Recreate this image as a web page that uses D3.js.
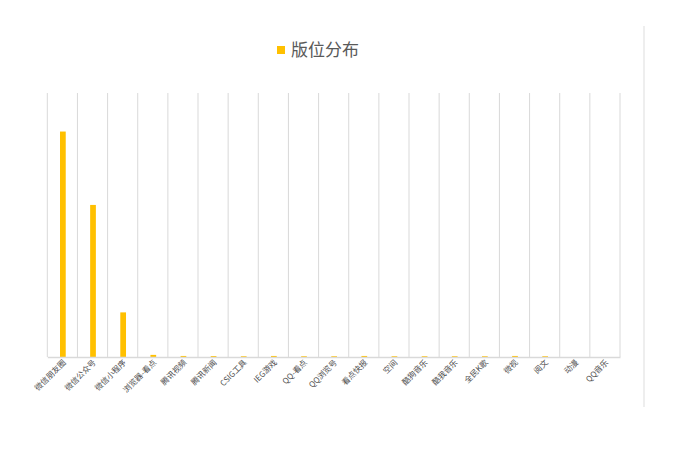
<!DOCTYPE html>
<html>
<head>
<meta charset="utf-8">
<script src="https://cdn.jsdelivr.net/npm/d3@7/dist/d3.min.js"></script>
<style>
  body { margin: 0; background: #fff; }
  text { font-family: "Noto Sans CJK SC", "Noto Sans", sans-serif; }
</style>
</head>
<body>
<svg id="mainsvg" width="689" height="471"></svg>
<script>
    // 数据
    const categories = ['微信朋友圈', '微信公众号', '微信小程序', '浏览器-看点', '腾讯视频', '腾讯新闻', 'CSIG工具', 'IEG游戏', 'QQ-看点', 'QQ浏览号', '看点快报', '空间', '酷狗音乐', '酷我音乐', '全民K歌', '微视', '阅文', '动漫', 'QQ音乐'];
    const values = [42.7, 28.8, 8.45, 0.4, 0.2, 0.18, 0.15, 0.2, 0.15, 0.15, 0.2, 0.15, 0.15, 0.15, 0.15, 0.2, 0.15, 0, 0];
    const seriesName = '版位分布';

    const svg = d3.select('#mainsvg');
    const margin = {top: 93, left: 47.3, right: 69, bottom: 114};
    const width = +svg.attr('width'), height = +svg.attr('height');
    const barColor = '#FFC000';
    const gridColor = '#d9d9d9';

    const x = d3.scaleBand().domain(categories).range([margin.left, width - margin.right]).padding(0);
    const y = d3.scaleLinear().domain([0, 50]).range([height - margin.bottom, margin.top]);

    // 外框右边线
    svg.append('line')
        .attr('x1', 644).attr('x2', 644).attr('y1', 26).attr('y2', 407)
        .attr('stroke', '#e3e3e3').attr('stroke-width', 1.2);

    // 竖向网格线
    const gridX = categories.map(c => x(c)).concat([x.range()[1]]);
    svg.append('g').selectAll('line').data(gridX).join('line')
        .attr('x1', d => d).attr('x2', d => d)
        .attr('y1', y(50)).attr('y2', y(0))
        .attr('stroke', gridColor).attr('stroke-width', 1);

    // 柱子
    const bw = x.bandwidth() * 0.19;
    svg.append('g').selectAll('rect').data(values).join('rect')
        .attr('x', (d, i) => x(categories[i]) + x.bandwidth() / 2 - bw / 2 + 0.5)
        .attr('width', bw)
        .attr('y', d => y(d))
        .attr('height', d => y(0) - y(d))
        .attr('fill', barColor);

    // x轴
    const xAxis = d3.axisBottom(x).tickSize(0).tickPadding(0);
    const xg = svg.append('g')
        .attr('transform', `translate(0,${y(0)})`)
        .call(xAxis);
    xg.select('.domain').attr('stroke', gridColor).attr('stroke-width', 1.3);
    xg.selectAll('.tick text')
        .attr('fill', '#4d4d4d')
        .attr('font-size', '8px')
        .attr('text-anchor', 'end')
        .attr('dy', 0)
        .attr('transform', 'translate(4,6) rotate(-45)');

    // 图例
    const legend = svg.append('g').attr('transform', 'translate(277,46)');
    legend.append('rect').attr('width', 8).attr('height', 8).attr('fill', barColor);
    legend.append('text')
        .attr('x', 14).attr('y', 10)
        .attr('font-size', '17px')
        .attr('fill', '#595959')
        .text(seriesName);
</script>
</body>
</html>
